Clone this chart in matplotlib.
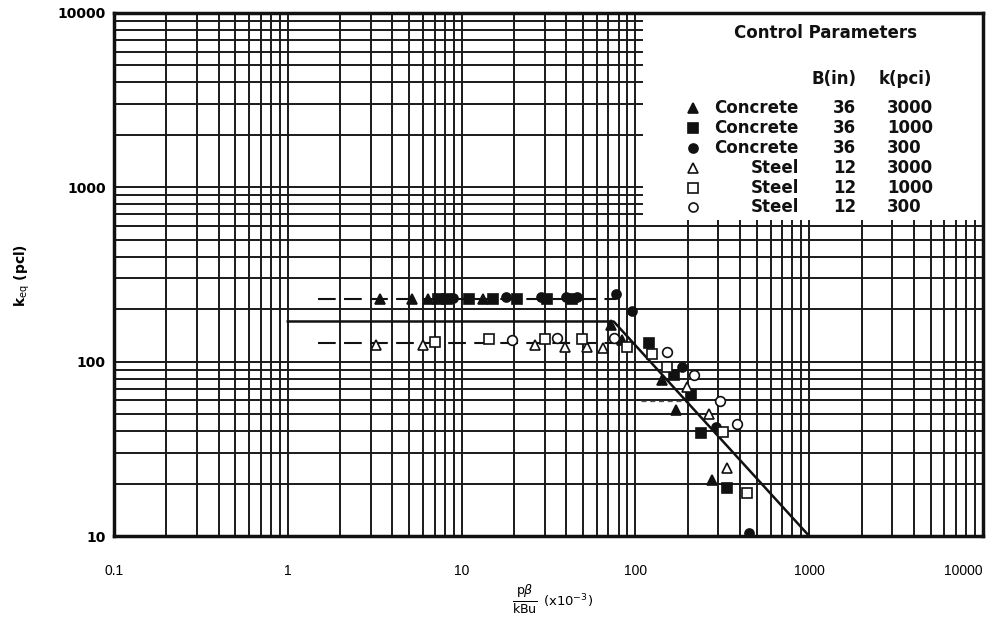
import matplotlib
matplotlib.use("Agg")
import matplotlib.pyplot as plt
from matplotlib.patches import Rectangle
from matplotlib.lines import Line2D

# ---------------- data ----------------
conc3000_x = [3.38, 5.16, 6.38, 13.2, 72.8, 84, 143, 172, 277]
conc3000_y = [230, 230, 230, 230, 163, 134, 79, 53, 21]

conc1000_x = [7.28, 8.2, 11.1, 15.1, 20.7, 31.2, 42.9, 120, 167, 210, 239, 338]
conc1000_y = [230, 230, 230, 230, 230, 228, 230, 128, 84, 64.5, 39, 18.9]

conc300_x = [8.88, 18.1, 28.8, 40.1, 46.4, 77.8, 95, 186, 292, 452]
conc300_y = [233, 235, 235, 235, 235, 243, 196, 93.5, 42.3, 10.4]

steel3000_x = [3.2, 5.97, 26.3, 39.1, 53, 65.5, 199, 266, 338]
steel3000_y = [125, 125, 125, 122, 122, 120, 71.8, 50.3, 24.6]

steel1000_x = [7.0, 14.3, 30, 49.5, 90, 125, 153, 321, 440]
steel1000_y = [130, 135, 135, 135, 122, 111, 93.5, 39.6, 17.7]

steel300_x = [19.4, 35.6, 75.7, 151, 218, 308, 385]
steel300_y = [133, 137, 137, 114, 84, 59.7, 44]

upper_dash_x = [1.49, 77.8]
upper_dash_y = [230, 230]
lower_dash_x = [1.5, 92]
lower_dash_y = [128, 128]
short_dash_x = [108, 204]
short_dash_y = [59.7, 59.7]
solid_x = [1.0, 75, 1000]
solid_y = [170, 170, 10]

xticks = [0.1, 1, 10, 100, 1000, 10000]
xtick_labels = ["0.1", "1", "10", "100", "1000", "10000"]
yticks = [10, 100, 1000, 10000]
ytick_labels = ["10", "100", "1000", "10000"]

legend_names = ["Concrete", "Concrete", "Concrete", "Steel", "Steel", "Steel"]
legend_B = ["36", "36", "36", "12", "12", "12"]
legend_k = ["3000", "1000", "300", "3000", "1000", "300"]

# ---------------- figure ----------------
W, H = 1004, 638
fig = plt.figure(figsize=(W / 100, H / 100), dpi=100)
fig.patch.set_facecolor("white")
L, R, T, B = 114, 983, 13, 536
ax = fig.add_axes([L / W, (H - B) / H, (R - L) / W, (B - T) / H])
ax.set_xscale("log")
ax.set_yscale("log")
ax.set_xlim(0.1, 10000)
ax.set_ylim(10, 10000)

ax.set_axisbelow(True)
ax.grid(which="both", color="#1a1a1a", lw=1.4)
ax.tick_params(which="both", length=0)
ax.set_xticks(xticks)
ax.set_xticklabels(xtick_labels, fontsize=10, family="Liberation Sans")
for lab in ax.get_xticklabels():
    if lab.get_text() == "10000":
        lab.set_horizontalalignment("right")
        lab.set_x(10000)
ax.set_yticks(yticks)
ax.set_yticklabels(ytick_labels, fontsize=10, weight="bold", family="DejaVu Sans")
ax.tick_params(axis="x", pad=20)
ax.tick_params(axis="y", pad=6)
for s in ax.spines.values():
    s.set_linewidth(2.5)
    s.set_color("#111111")

# legend box covering grid
ax.add_patch(Rectangle(((643 - L) / (R - L), (B - 220) / (B - T)),
                       1 - (643 - L) / (R - L), 1 - (B - 220) / (B - T),
                       transform=ax.transAxes, facecolor="white",
                       edgecolor="none", zorder=1))

# lines
ax.plot(upper_dash_x, upper_dash_y, color="#111", lw=1.5, dashes=(8.5, 4), zorder=2)
ax.plot(lower_dash_x, lower_dash_y, color="#111", lw=1.5, dashes=(8.5, 4), zorder=2)
ax.plot(short_dash_x, short_dash_y, color="#555", lw=0.9, dashes=(4, 3), zorder=2)
ax.plot(solid_x, solid_y, color="#111", lw=1.8, zorder=2)

ms = 7
mk = dict(ls="none", markeredgecolor="#111", markeredgewidth=1.2, zorder=3)
ax.plot(conc3000_x, conc3000_y, marker="^", markerfacecolor="#111", markersize=ms, **mk)
ax.plot(conc1000_x, conc1000_y, marker="s", markerfacecolor="#111", markersize=ms - 0.5, **mk)
ax.plot(conc300_x, conc300_y, marker="o", markerfacecolor="#111", markersize=ms - 0.5, **mk)
ax.plot(steel3000_x, steel3000_y, marker="^", markerfacecolor="white", markersize=ms, **mk)
ax.plot(steel1000_x, steel1000_y, marker="s", markerfacecolor="white", markersize=ms, **mk)
ax.plot(steel300_x, steel300_y, marker="o", markerfacecolor="white", markersize=ms, **mk)

# legend content (figure pixel coords)
def fx(px):
    return px / W

def fy(py):
    return 1 - py / H

tf = dict(family="DejaVu Sans", weight="bold", color="#111", zorder=5)
fs = 12
fig.text(fx(825), fy(33), "Control Parameters", ha="center", va="center", fontsize=fs, **tf)
fig.text(fx(834), fy(79), "B(in)", ha="center", va="center", fontsize=fs, **tf)
fig.text(fx(905), fy(79), "k(pci)", ha="center", va="center", fontsize=fs, **tf)
row_y = [108, 128, 148, 168, 188, 207]
leg_markers = [("^", "#111"), ("s", "#111"), ("o", "#111"),
               ("^", "white"), ("s", "white"), ("o", "white")]
for i, yy in enumerate(row_y):
    m, fc = leg_markers[i]
    fig.lines.append(Line2D([fx(693)], [fy(yy)], marker=m,
                     markersize=6.5, markerfacecolor=fc, markeredgecolor="#111",
                     markeredgewidth=1.2, transform=fig.transFigure, ls="none"))
    fig.text(fx(799), fy(yy), legend_names[i], ha="right", va="center", fontsize=fs, **tf)
    fig.text(fx(856), fy(yy), legend_B[i], ha="right", va="center", fontsize=fs, **tf)
    fig.text(fx(887), fy(yy), legend_k[i], ha="left", va="center", fontsize=fs, **tf)

# axis labels
fig.text(fx(22), fy(275), r"k$_{\mathrm{eq}}$ (pcl)", rotation=90, ha="center",
         va="center", fontsize=10, weight="bold", family="DejaVu Sans")
fig.text(fx(525), fy(600), r"$\frac{\mathrm{p}\beta}{\mathrm{kBu}}$", ha="center",
         va="center", fontsize=13, family="DejaVu Sans")
fig.text(fx(543), fy(601), r"(x10$^{-3}$)", ha="left", va="center", fontsize=9.5,
         family="DejaVu Sans")

fig.savefig("out.png", dpi=100, facecolor="white")
